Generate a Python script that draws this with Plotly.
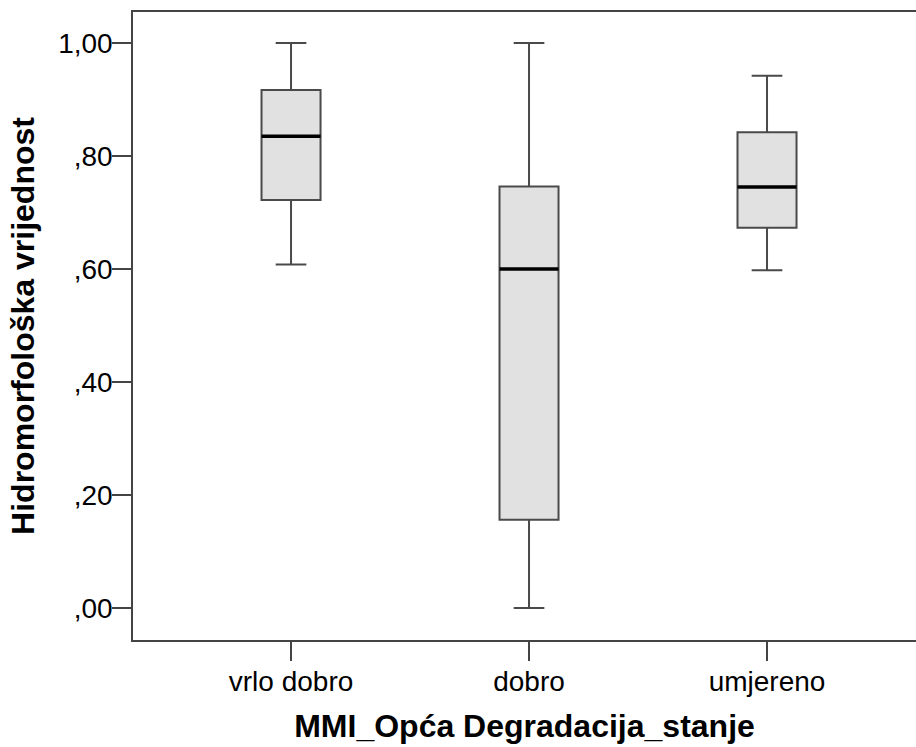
import plotly.graph_objects as go

# Group labels and five-number summaries of the hydromorphological value
categories = ["vrlo dobro", "dobro", "umjereno"]
lower_whisker = [0.608, 0.000, 0.598]
q1 = [0.722, 0.156, 0.673]
median = [0.835, 0.600, 0.745]
q3 = [0.917, 0.746, 0.842]
upper_whisker = [1.000, 1.000, 0.942]

y_tick_values = [0.0, 0.2, 0.4, 0.6, 0.8, 1.0]
y_tick_labels = [",00", ",20", ",40", ",60", ",80", "1,00"]

positions = list(range(len(categories)))
box_width = 0.248

FONT = "Liberation Sans, Arial, sans-serif"
AXIS_COLOR = "#444444"

fig = go.Figure()

fig.add_trace(go.Box(
    x=positions,
    q1=q1,
    median=median,
    q3=q3,
    lowerfence=lower_whisker,
    upperfence=upper_whisker,
    width=box_width,
    whiskerwidth=0.52,
    fillcolor="#e1e1e1",
    line=dict(color="#4a4a4a", width=2),
    boxpoints=False,
    showlegend=False,
    hoverinfo="skip",
))

# Heavier median bars drawn over each box
mx, my = [], []
for p, m in zip(positions, median):
    mx += [p - box_width / 2, p + box_width / 2, None]
    my += [m, m, None]
fig.add_trace(go.Scatter(
    x=mx, y=my, mode="lines",
    line=dict(color="#000000", width=3.5),
    showlegend=False, hoverinfo="skip",
))

fig.update_layout(
    width=916,
    height=747,
    margin=dict(l=133, r=0, t=12, b=107),
    paper_bgcolor="white",
    plot_bgcolor="white",
    font=dict(family=FONT, color="#000000"),
    showlegend=False,
)

fig.update_xaxes(
    range=[-0.664, 2.626],
    tickvals=positions,
    ticktext=categories,
    tickfont=dict(size=28, family=FONT, color="#000000"),
    ticks="outside",
    ticklen=19,
    tickwidth=1.5,
    tickcolor=AXIS_COLOR,
    ticklabelstandoff=-3,
    showline=True,
    linecolor=AXIS_COLOR,
    linewidth=1.5,
    mirror=True,
    showgrid=False,
    zeroline=False,
    title=dict(
        text="<b>MMI_Opća Degradacija_stanje</b>",
        font=dict(size=32, family=FONT, color="#000000"),
        standoff=18,
    ),
)

fig.update_yaxes(
    range=[-0.0567, 1.0549],
    tickvals=y_tick_values,
    ticktext=y_tick_labels,
    tickfont=dict(size=28, family=FONT, color="#000000"),
    ticks="outside",
    ticklen=19,
    tickwidth=1.5,
    tickcolor=AXIS_COLOR,
    ticklabelstandoff=-6,
    showline=True,
    linecolor=AXIS_COLOR,
    linewidth=1.5,
    mirror=False,
    showgrid=False,
    zeroline=False,
    title=dict(
        text="<b>Hidromorfološka vrijednost</b>",
        font=dict(size=32, family=FONT, color="#000000"),
        standoff=14,
    ),
)

fig.write_html("out.html")
